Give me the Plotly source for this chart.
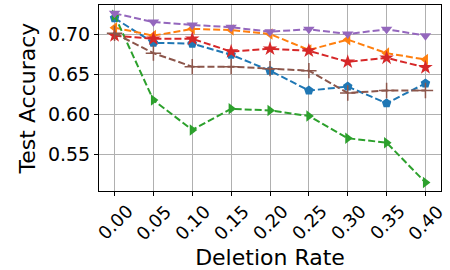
import plotly.graph_objects as go

rates = [0.00, 0.05, 0.10, 0.15, 0.20, 0.25, 0.30, 0.35, 0.40]
tick_labels = ["0.00", "0.05", "0.10", "0.15", "0.20", "0.25", "0.30", "0.35", "0.40"]
y_ticks = [0.55, 0.60, 0.65, 0.70]

blue = [0.721, 0.690, 0.689, 0.675, 0.655, 0.630, 0.635, 0.614, 0.639]
orange = [0.709, 0.699, 0.7075, 0.706, 0.701, 0.681, 0.694, 0.677, 0.669]
green = [0.7245, 0.618, 0.5805, 0.607, 0.605, 0.598, 0.570, 0.5645, 0.5145]
red = [0.699, 0.695, 0.695, 0.679, 0.6825, 0.680, 0.666, 0.671, 0.659]
purple = [0.727, 0.716, 0.7125, 0.7095, 0.704, 0.707, 0.701, 0.707, 0.699]
brown = [0.702, 0.677, 0.660, 0.660, 0.6575, 0.655, 0.627, 0.630, 0.630]

series = [
    (blue, "#1f77b4", "pentagon", 10),
    (orange, "#ff7f0e", "triangle-left", 10),
    (green, "#2ca02c", "triangle-right", 10),
    (red, "#d62728", "star", 11),
    (purple, "#9467bd", "triangle-down", 10),
    (brown, "#8c564b", "cross-thin", 11),
]

fig = go.Figure()
for vals, col, sym, sz in series:
    marker = dict(symbol=sym, size=sz, color=col)
    if sym == "cross-thin":
        marker["line"] = dict(color=col, width=1.5)
    fig.add_trace(go.Scatter(x=rates, y=vals, mode="lines+markers",
                             line=dict(color=col, width=2, dash="7px,3px"),
                             marker=marker, showlegend=False))

for r, lab in zip(rates, tick_labels):
    fig.add_annotation(x=r, y=0, xref="x", yref="paper", yshift=-31,
                       xanchor="center", yanchor="middle",
                       text=lab, textangle=-45, showarrow=False,
                       font=dict(family="DejaVu Sans", size=18, color="black"))

fig.update_xaxes(range=[-0.02, 0.42], tickvals=rates, ticktext=[""] * len(rates),
                 automargin=False,
                 showgrid=True, gridcolor="#b0b0b0", gridwidth=1,
                 showline=True, linecolor="black", linewidth=1, mirror=True,
                 ticks="outside", ticklen=4, tickcolor="black",
                 title=dict(text="Deletion Rate", standoff=54,
                            font=dict(family="DejaVu Sans", size=22, color="black")),
                 zeroline=False)
fig.update_yaxes(range=[0.50375, 0.7375], tickvals=y_ticks,
                 ticktext=["%.2f" % v for v in y_ticks],
                 automargin=False,
                 showgrid=True, gridcolor="#b0b0b0", gridwidth=1,
                 showline=True, linecolor="black", linewidth=1, mirror=True,
                 ticks="outside", ticklen=4, tickcolor="black",
                 tickfont=dict(family="DejaVu Sans", size=19, color="black"),
                 title=dict(text="Test Accuracy", standoff=6,
                            font=dict(family="DejaVu Sans", size=22, color="black")),
                 zeroline=False)
fig.update_layout(width=450, height=270, margin=dict(l=99, r=9, t=5, b=79),
                  plot_bgcolor="white", paper_bgcolor="white",
                  font=dict(family="DejaVu Sans", color="black"))
fig.write_html("out.html", config={"displayModeBar": False},
               post_script="document.body.style.margin='0';")
